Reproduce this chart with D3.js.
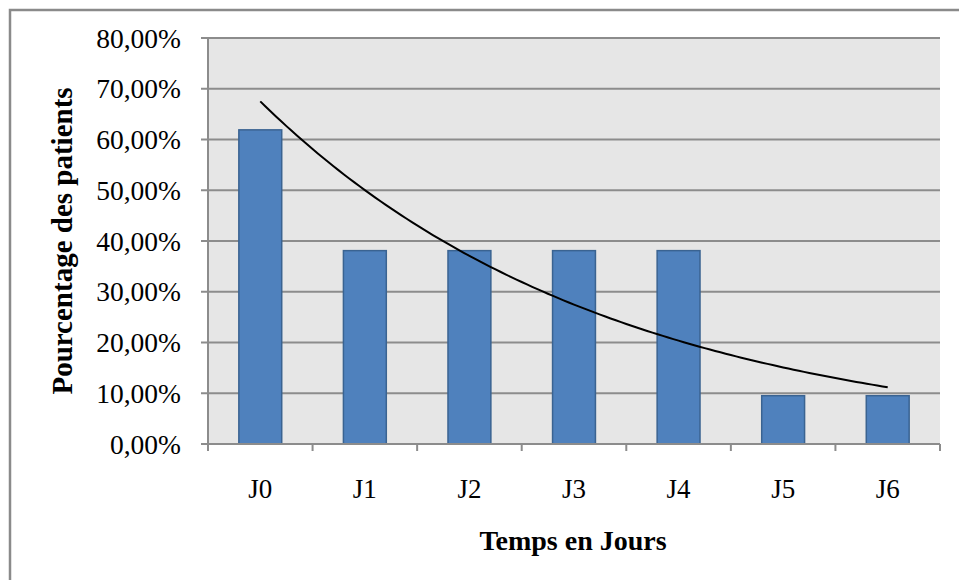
<!DOCTYPE html>
<html><head><meta charset="utf-8">
<script src="https://cdn.jsdelivr.net/npm/d3@7"></script>
<style>body{margin:0;background:#fff}svg{display:block}</style>
</head><body>
<svg id="c" width="959" height="580"></svg>
<script>
const categories = ["J0","J1","J2","J3","J4","J5","J6"];
const values = [0.619, 0.381, 0.381, 0.381, 0.381, 0.0952, 0.0952];
const yTicks = [0,0.1,0.2,0.3,0.4,0.5,0.6,0.7,0.8];
const yTitle = "Pourcentage des patients";
const xTitle = "Temps en Jours";

const svg = d3.select("#c");
const L=208,R=940,T=38,B=444;
const font = "'Liberation Serif', serif";

svg.append("rect").attr("x",10).attr("y",10).attr("width",1000).attr("height",620)
  .attr("fill","#fff").attr("stroke","#8a8a8a").attr("stroke-width",2.5);

const x = d3.scaleBand().domain(categories).range([L,R]).padding(0);
const y = d3.scaleLinear().domain([0,0.8]).range([B,T]);

svg.append("rect").attr("x",L).attr("y",T).attr("width",R-L).attr("height",B-T).attr("fill","#e6e6e6");

svg.append("g").selectAll("line").data(yTicks).join("line")
  .attr("x1",L-7).attr("x2",R).attr("y1",d=>y(d)).attr("y2",d=>y(d))
  .attr("stroke","#8c8c8c").attr("stroke-width",2);

svg.append("line").attr("x1",L).attr("x2",L).attr("y1",T).attr("y2",B).attr("stroke","#8c8c8c").attr("stroke-width",2);

// bars
const bw = x.bandwidth()*0.41;
svg.append("g").selectAll("rect").data(values).join("rect")
  .attr("x",(d,i)=>x(categories[i])+x.bandwidth()/2-bw/2)
  .attr("y",d=>y(d)).attr("width",bw).attr("height",d=>B-y(d))
  .attr("fill","#4f81bd").attr("stroke","#3a6391").attr("stroke-width",1.5);

// x axis
svg.append("line").attr("x1",L).attr("x2",R).attr("y1",B).attr("y2",B).attr("stroke","#8c8c8c").attr("stroke-width",2);
const bounds = categories.map(c=>x(c)).concat([R]);
svg.append("g").selectAll("line").data(bounds).join("line")
  .attr("x1",d=>d).attr("x2",d=>d).attr("y1",B).attr("y2",B+7)
  .attr("stroke","#8c8c8c").attr("stroke-width",2);

// exponential trendline fitted to the bar values
const n = values.length;
const xs = values.map((d,i)=>i+1), ls = values.map(v=>Math.log(v));
const mx = d3.mean(xs), ml = d3.mean(ls);
const b = d3.sum(xs.map((v,i)=>(v-mx)*(ls[i]-ml)))/d3.sum(xs.map(v=>(v-mx)*(v-mx)));
const a = ml - b*mx;
const xLin = d3.scaleLinear().domain([1,n]).range([x(categories[0])+x.bandwidth()/2, x(categories[n-1])+x.bandwidth()/2]);
const trend = d3.range(1,n+0.001,0.05).map(t=>[t,Math.exp(a+b*t)]);
svg.append("path").datum(trend)
  .attr("d",d3.line().x(d=>xLin(d[0])).y(d=>y(d[1])))
  .attr("fill","none").attr("stroke","#000").attr("stroke-width",2);

// labels
const fmt = v => (v*100).toFixed(2).replace(".",",")+"%";
svg.append("g").selectAll("text").data(yTicks).join("text")
  .attr("x",181).attr("y",d=>y(d)).attr("dy","0.35em").attr("text-anchor","end")
  .attr("font-family",font).attr("font-size",27.5).attr("fill","#000").text(fmt);

svg.append("g").selectAll("text").data(categories).join("text")
  .attr("x",d=>x(d)+x.bandwidth()/2).attr("y",489).attr("dy","0.35em").attr("text-anchor","middle")
  .attr("font-family",font).attr("font-size",27).attr("fill","#000").text(d=>d);

svg.append("text").attr("x",573).attr("y",540).attr("dy","0.35em").attr("text-anchor","middle")
  .attr("font-family",font).attr("font-weight","bold").attr("font-size",28).text(xTitle);

svg.append("text").attr("transform",`translate(62,${(T+B)/2}) rotate(-90)`).attr("dy","0.35em")
  .attr("text-anchor","middle").attr("font-family",font).attr("font-weight","bold").attr("font-size",29).text(yTitle);
</script>
</body></html>
